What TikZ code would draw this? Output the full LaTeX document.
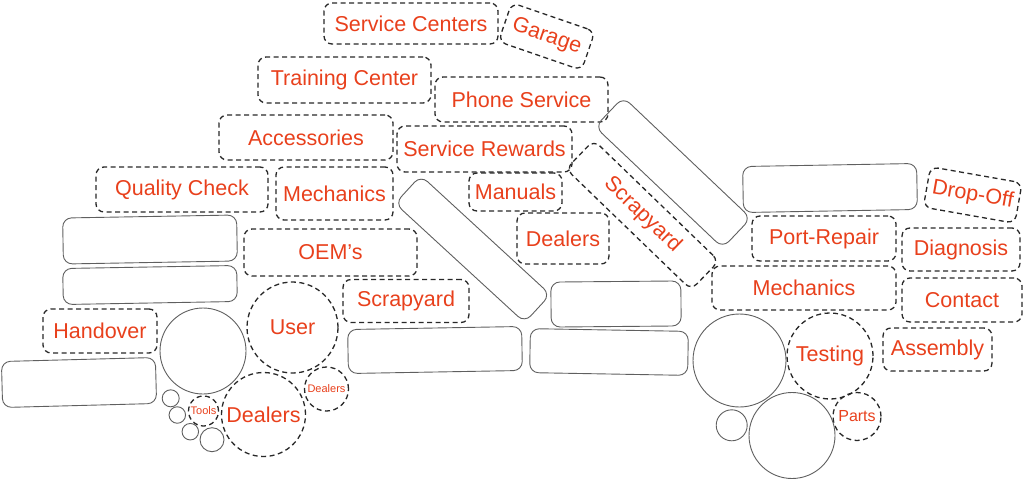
\documentclass[tikz,border=0pt]{standalone}
\usepackage{fontspec}
\setmainfont{Liberation Sans}
\definecolor{lab}{RGB}{232,64,28}
\definecolor{dline}{RGB}{40,40,40}
\definecolor{sline}{RGB}{95,95,95}
\tikzset{
  dbox/.style={draw=dline, line width=1.3pt, dash pattern=on 5pt off 3.5pt,
    rounded corners=8pt, inner sep=0pt, text=lab, font=\fontsize{21.5}{25}\selectfont},
  sbox/.style={draw=sline, line width=0.9pt, rounded corners=9pt, inner sep=0pt},
  dcirc/.style={circle, draw=dline, line width=1.3pt, dash pattern=on 5pt off 3.5pt,
    inner sep=0pt, text=lab, font=\fontsize{21.5}{25}\selectfont},
  scirc/.style={circle, draw=sline, line width=0.9pt, inner sep=0pt},
}
\begin{document}
\begin{tikzpicture}[x=1pt,y=-1pt]
\useasboundingbox (0,0) rectangle (1024,479);
% dashed labelled boxes
\node[dbox, minimum width=174pt, minimum height=41pt] (sc) at (411,23.5) {Service Centers};
\node[dbox, minimum width=88pt, minimum height=41pt, rotate=-19] (ga) at (546.7,36.5) {Garage};
\node[dbox, minimum width=173pt, minimum height=46pt] (tc) at (344.5,80) {Training Center};
\node[dbox, minimum width=173pt, minimum height=45pt] (ps) at (521.5,99.5) {Phone Service};
\node[dbox, minimum width=174pt, minimum height=45pt] (ac) at (306,137.5) {Accessories};
\node[dbox, minimum width=175pt, minimum height=46pt] (sr) at (484.5,149) {Service Rewards};
\node[dbox, minimum width=172pt, minimum height=45pt] (qc) at (182,189.5) {Quality Check};
\node[dbox, minimum width=117pt, minimum height=53pt] (me1) at (334.5,193.5) {Mechanics};
\node[dbox, minimum width=93pt, minimum height=38pt] (ma) at (515.5,192) {Manuals};
\node[dbox, minimum width=92pt, minimum height=51pt] (de1) at (563,238.5) {Dealers};
\node[dbox, minimum width=173pt, minimum height=47pt] (oe) at (330.5,252.5) {OEM’s};
\node[dbox, minimum width=126pt, minimum height=43pt] (sy1) at (406,301) {Scrapyard};
\node[dbox, minimum width=174pt, minimum height=40pt, rotate=-44] (sy2) at (642.5,215) {Scrapyard};
\node[dbox, minimum width=144pt, minimum height=45pt] (pr) at (824,238.5) {Port-Repair};
\node[dbox, minimum width=93pt, minimum height=41pt, rotate=-10] (do) at (972.7,195) {Drop-Off};
\node[dbox, minimum width=118pt, minimum height=43pt] (di) at (961,249.5) {Diagnosis};
\node[dbox, minimum width=184pt, minimum height=44pt] (me2) at (804,288) {Mechanics};
\node[dbox, minimum width=120pt, minimum height=44pt] (co) at (962,300) {Contact};
\node[dbox, minimum width=109pt, minimum height=43pt] (as) at (937.5,349.5) {Assembly};
\node[dbox, minimum width=114pt, minimum height=44pt] (ho) at (100,331) {Handover};
% dashed circles
\node[dcirc, minimum size=91pt] (us) at (292.5,327.5) {User};
\node[dcirc, minimum size=84pt] (de2) at (263.5,414.5) {Dealers};
\node[dcirc, minimum size=44pt, font=\fontsize{11}{13}\selectfont] (de3) at (326.5,389) {Dealers};
\node[dcirc, minimum size=30pt, font=\fontsize{11}{13}\selectfont] (to) at (203.5,411) {Tools};
\node[dcirc, minimum size=86pt] (te) at (830,356) {Testing};
\node[dcirc, minimum size=48pt, font=\fontsize{16}{19}\selectfont] (pa) at (857,416.5) {Parts};
% solid circles
\node[scirc, minimum size=86pt] (w1) at (203,351) {};
\node[scirc, minimum size=17pt] (c1) at (170.7,398.3) {};
\node[scirc, minimum size=16.5pt] (c2) at (177.3,415) {};
\node[scirc, minimum size=16.5pt] (c3) at (190.3,431.7) {};
\node[scirc, minimum size=24pt] (c4) at (212,439.7) {};
\node[scirc, minimum size=93pt] (w2) at (739.5,360.5) {};
\node[scirc, minimum size=31pt] (c5) at (731.7,425.3) {};
\node[scirc, minimum size=86pt] (w3) at (792,435.5) {};
% solid empty boxes
\node[sbox, minimum width=174pt, minimum height=46pt, rotate=1] (b1) at (150,239.5) {};
\node[sbox, minimum width=174pt, minimum height=36pt, rotate=1] (b2) at (150,285) {};
\node[sbox, minimum width=154pt, minimum height=46pt, rotate=1.5] (b3) at (79,382.5) {};
\node[sbox, minimum width=174pt, minimum height=44pt, rotate=1] (b4) at (435,350) {};
\node[sbox, minimum width=158pt, minimum height=44pt, rotate=-1] (b5) at (609,352) {};
\node[sbox, minimum width=130pt, minimum height=45pt, rotate=0.5] (b6) at (616,304) {};
\node[sbox, minimum width=176pt, minimum height=38pt, rotate=-42.6] (b7) at (472.7,249) {};
\node[sbox, minimum width=176pt, minimum height=41pt, rotate=-43.5] (b8) at (673,172.5) {};
\node[sbox, minimum width=174pt, minimum height=46pt, rotate=1] (b9) at (830,188) {};
\end{tikzpicture}
\end{document}
